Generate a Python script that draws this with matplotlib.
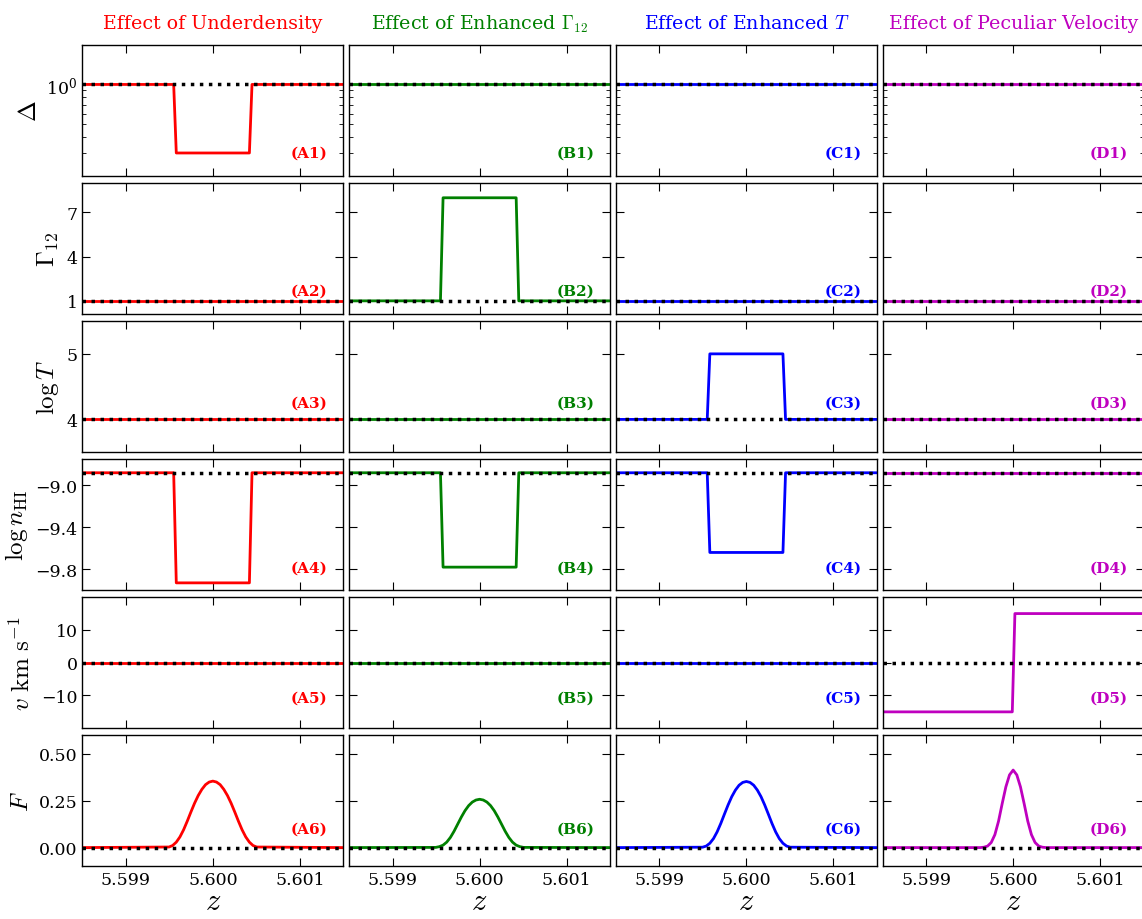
import numpy as np
import matplotlib
matplotlib.use('Agg')
from matplotlib import pyplot as plt
from matplotlib.ticker import LogLocator, NullFormatter, FixedLocator

plt.rcParams['font.family'] = 'DejaVu Serif'
plt.rcParams['mathtext.fontset'] = 'cm'
plt.rcParams['xtick.direction'] = 'in'
plt.rcParams['ytick.direction'] = 'in'
plt.rcParams['xtick.top'] = True
plt.rcParams['ytick.right'] = True
plt.rcParams['xtick.major.size'] = 6
plt.rcParams['ytick.major.size'] = 6
plt.rcParams['xtick.minor.size'] = 3
plt.rcParams['ytick.minor.size'] = 3
plt.rcParams['axes.linewidth'] = 1.0
plt.rcParams['xtick.labelsize'] = 12.5
plt.rcParams['ytick.labelsize'] = 12.5

# --- data ---
z_lim = (5.5985, 5.6015)
z_ticks = [5.599, 5.600, 5.601]

# box perturbation edges
z_box = [5.5985, 5.59955, 5.59958, 5.60042, 5.60045, 5.6015]
delta_base = [1, 1, 1, 1, 1, 1]
delta_under = [1, 1, 0.3, 0.3, 1, 1]
gamma_base = [1, 1, 1, 1, 1, 1]
gamma_enh = [1, 1, 8, 8, 1, 1]
logT_base = [4, 4, 4, 4, 4, 4]
logT_enh = [4, 4, 5, 5, 4, 4]
lognhi_base = [-8.88, -8.88, -8.88, -8.88, -8.88, -8.88]
lognhi_A = [-8.88, -8.88, -9.93, -9.93, -8.88, -8.88]
lognhi_B = [-8.88, -8.88, -9.78, -9.78, -8.88, -8.88]
lognhi_C = [-8.88, -8.88, -9.64, -9.64, -8.88, -8.88]

z_vel = [5.5985, 5.59999, 5.60002, 5.6015]
v_base = [0, 0, 0, 0]
v_pec = [-15, -15, 15, 15]

# flux profiles, offsets from z=5.6 in units of 1e-4
flux_dz = [-15, -5.04, -4.62, -4.20, -3.78, -3.36, -2.94, -2.52, -2.10, -1.68, -1.26, -0.84, -0.42,
           0, 0.42, 0.84, 1.26, 1.68, 2.10, 2.52, 2.94, 3.36, 3.78, 4.20, 4.62, 5.04, 15]
flux_A = [0, 0.003, 0.011, 0.029, 0.057, 0.095, 0.141, 0.190, 0.237, 0.278, 0.311, 0.336, 0.350,
          0.355, 0.350, 0.336, 0.311, 0.278, 0.237, 0.190, 0.141, 0.095, 0.057, 0.029, 0.011, 0.003, 0]
flux_B = [0, 0.001, 0.005, 0.013, 0.029, 0.054, 0.087, 0.125, 0.163, 0.197, 0.224, 0.243, 0.254,
          0.258, 0.254, 0.243, 0.224, 0.197, 0.163, 0.125, 0.087, 0.054, 0.029, 0.013, 0.005, 0.001, 0]
flux_C = [0, 0.002, 0.008, 0.023, 0.048, 0.084, 0.129, 0.179, 0.228, 0.272, 0.307, 0.333, 0.348,
          0.353, 0.348, 0.333, 0.307, 0.272, 0.228, 0.179, 0.129, 0.084, 0.048, 0.023, 0.008, 0.002, 0]
flux_D = [0, 0, 0, 0, 0, 0.002, 0.008, 0.027, 0.069, 0.141, 0.235, 0.324, 0.388,
          0.414, 0.388, 0.324, 0.235, 0.141, 0.069, 0.027, 0.008, 0.002, 0, 0, 0, 0, 0]

col_titles = ['Effect of Underdensity', r'Effect of Enhanced $\Gamma_{12}$',
              r'Effect of Enhanced $T$', 'Effect of Peculiar Velocity']
col_colors = ['r', 'g', 'b', 'm']
col_letters = ['A', 'B', 'C', 'D']
row_labels = [r'$\Delta$', r'$\Gamma_{12}$', r'$\log T$', r'$\log n_{\rm HI}$',
              r'$v\ \rm km\ s^{-1}$', r'$F$']
row_ylims = [(0.2, 2), (0.1, 9.0), (3.5, 5.5), (-10.0, -8.75), (-20, 20), (-0.1, 0.6)]
row_yticks = [None, [1, 4, 7], [4, 5], [-9.0, -9.4, -9.8], [-10, 0, 10], [0.0, 0.25, 0.5]]
label_ypos = [0.18, 0.18, 0.38, 0.17, 0.23, 0.29]

flux_z = 5.6 + np.array(flux_dz) * 1e-4
fluxes = [flux_A, flux_B, flux_C, flux_D]

# colored curve per row per column
curves = [
    [(z_box, delta_under), (z_box, delta_base), (z_box, delta_base), (z_box, delta_base)],
    [(z_box, gamma_base), (z_box, gamma_enh), (z_box, gamma_base), (z_box, gamma_base)],
    [(z_box, logT_base), (z_box, logT_base), (z_box, logT_enh), (z_box, logT_base)],
    [(z_box, lognhi_A), (z_box, lognhi_B), (z_box, lognhi_C), (z_box, lognhi_base)],
    [(z_vel, v_base), (z_vel, v_base), (z_vel, v_base), (z_vel, v_pec)],
    [(flux_z, f) for f in fluxes],
]
# dotted reference (unperturbed) per row
refs = [(z_box, delta_base), (z_box, gamma_base), (z_box, logT_base),
        (z_box, lognhi_base), (z_vel, v_base), (list(z_lim), [0, 0])]

W, H = 1142, 920
fig = plt.figure(figsize=(W / 100, H / 100), dpi=100)
fig.subplots_adjust(left=82.3 / W, right=1143.7 / W, top=1 - 46 / H, bottom=1 - 867.3 / H,
                    wspace=0.0218, hspace=0.0533)
axes = fig.subplots(6, 4, sharex=True)

for i in range(6):
    for j in range(4):
        ax = axes[i, j]
        c = col_colors[j]
        x, y = curves[i][j]
        ax.plot(x, y, color=c, lw=2, zorder=2)
        rx, ry = refs[i]
        ax.plot(rx, ry, color='k', lw=2.5, linestyle=(0, (1, 1.6)), zorder=3)
        if i == 0:
            ax.set_yscale('log')
            ax.yaxis.set_major_locator(LogLocator(base=10))
            ax.yaxis.set_minor_locator(LogLocator(base=10, subs=np.arange(2, 10)))
            ax.yaxis.set_minor_formatter(NullFormatter())
        else:
            ax.yaxis.set_major_locator(FixedLocator(row_yticks[i]))
        ax.set_ylim(row_ylims[i])
        ax.set_xlim(z_lim)
        ax.set_xticks(z_ticks)
        if i == 5:
            ax.set_xticklabels(['5.599', '5.600', '5.601'])
            ax.set_xlabel(r'$z$', fontsize=22, labelpad=-2)
        if j > 0:
            ax.tick_params(labelleft=False)
        else:
            ax.set_ylabel(row_labels[i], fontsize=18)
        if i == 0:
            ax.set_title(col_titles[j], color=c, fontsize=13.7, pad=12)
        ax.text(0.94, label_ypos[i], '(%s%d)' % (col_letters[j], i + 1), color=c,
                fontsize=11, fontweight='bold', ha='right', va='center', transform=ax.transAxes)

fig.savefig('out.png', dpi=100)
